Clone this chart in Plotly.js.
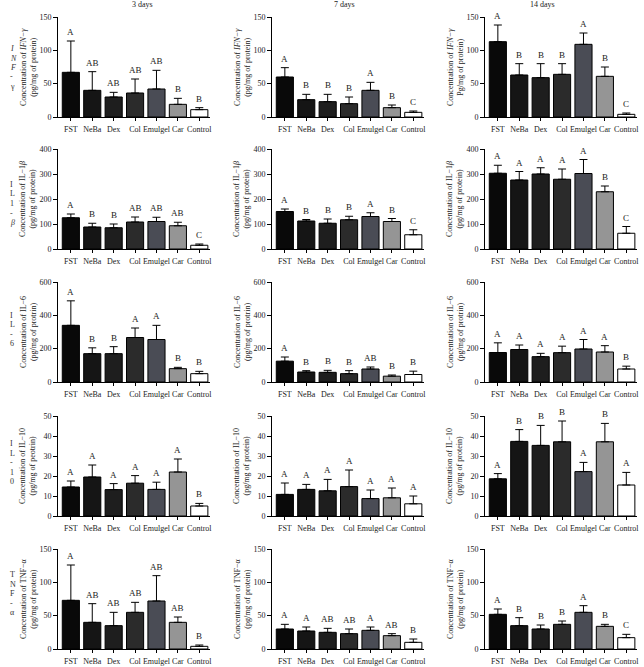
<!DOCTYPE html>
<html>
<head>
<meta charset="utf-8">
<script src="https://cdn.plot.ly/plotly-3.0.1.min.js"></script>
<style>
  html, body { margin: 0; padding: 0; background: #fff; }
  #plot { width: 644px; height: 667px; }
</style>
</head>
<body>
<div id="plot"></div>
<script>
const groups = ["FST", "NeBa", "Dex", "Col", "Emulgel", "Car", "Control"];
const days = ["3 days", "7 days", "14 days"];
const barColors = ["#090909", "#151515", "#1e1e1e", "#2b2b2b", "#4a4c55", "#959595", "#ffffff"];

// each cytokine: [3 days, 7 days, 14 days]; "top" = upper end of error bar
const ifnMean = [[67, 40, 30, 36, 42, 19, 11], [60, 26, 23, 20, 40, 14, 7], [113, 63, 59, 64, 109, 61, 4]];
const ifnTop = [[114, 68, 37, 57, 70, 28, 14], [74, 34, 34, 30, 52, 18, 9], [138, 80, 80, 80, 126, 75, 6]];
const ifnLetters = [["A", "AB", "AB", "AB", "AB", "B", "B"], ["A", "B", "B", "B", "A", "B", "C"], ["A", "B", "B", "B", "A", "B", "C"]];

const il1Mean = [[125, 88, 85, 108, 110, 93, 15], [150, 112, 103, 117, 130, 110, 57], [303, 276, 300, 279, 302, 229, 63]];
const il1Top = [[140, 103, 100, 128, 127, 107, 20], [160, 118, 120, 131, 145, 122, 77], [335, 310, 325, 320, 358, 252, 90]];
const il1Letters = [["A", "B", "B", "AB", "AB", "AB", "C"], ["A", "B", "B", "B", "A", "B", "C"], ["A", "A", "A", "A", "A", "B", "C"]];

const il6Mean = [[340, 170, 170, 267, 255, 80, 50], [125, 60, 58, 50, 78, 35, 45], [177, 195, 152, 176, 198, 180, 78]];
const il6Top = [[487, 205, 212, 324, 340, 88, 64], [150, 68, 70, 68, 90, 42, 65], [235, 222, 172, 215, 255, 218, 95]];
const il6Letters = [["A", "B", "B", "A", "A", "B", "B"], ["A", "B", "B", "B", "AB", "B", "B"], ["A", "A", "A", "A", "A", "A", "B"]];

const il10Mean = [[14.5, 19.5, 13.2, 16.4, 13.3, 22, 5], [10.8, 13.3, 12.6, 14.7, 8.7, 9.1, 6.1], [18.6, 37.3, 35.3, 37.1, 22.2, 37.1, 15.5]];
const il10Top = [[17.5, 25.5, 16.2, 20.2, 16.9, 28.5, 6.3], [16.5, 15.8, 18.3, 23, 13, 14, 10], [21.2, 43.2, 45.3, 47.5, 26.8, 46.3, 21.8]];
const il10Letters = [["A", "A", "A", "A", "A", "A", "B"], ["A", "A", "A", "A", "A", "A", "A"], ["A", "B", "B", "B", "A", "B", "A"]];

const tnfMean = [[73, 40, 35, 55, 72, 40, 4], [30, 27, 25, 23, 28, 20, 10], [52, 35, 30, 37, 55, 34, 17]];
const tnfTop = [[126, 68, 55, 70, 110, 48, 6], [37, 33, 31, 30, 33, 23, 15], [60, 47, 36, 42, 65, 37, 22]];
const tnfLetters = [["A", "AB", "AB", "AB", "AB", "AB", "B"], ["A", "A", "AB", "AB", "A", "AB", "B"], ["A", "B", "B", "B", "A", "B", "C"]];

const yMax = [150, 400, 600, 50, 150];
const yStep = [50, 100, 200, 10, 50];
const rowSide = [
  ["<i>I</i>", "<i>N</i>", "<i>F</i>", "-", "γ"],
  ["I", "L", "1", "-", "<i>β</i>"],
  ["I", "L", "-", "6"],
  ["I", "L", "-", "1", "0"],
  ["T", "N", "F", "-", "α"],
];
const yTitles = [
  ["Concentration of <i>IFN−γ</i><br>(pg/mg of protein)", "Concentration of <i>IFN−γ</i><br>(pg/mg of protein)", "Concentration of <i>IFN−γ</i><br>Pg/mg of protein)"],
  ["Concentration of IL−1<i>β</i><br>(pg/mg of protein)", "Concentration of IL−1<i>β</i><br>(pg/mg of protein)", "Concentration of IL−1<i>β</i><br>(pg/mg of protein)"],
  ["Concentration of IL−6<br>(pg/mg of protrin)", "Concentration of IL−6<br>(pg/mg of protrin)", "Concentration of IL−6<br>(pg/mg of protrin)"],
  ["Concentration of IL−10<br>(pg/mg of peotrin)", "Concentration of IL−10<br>(pg/mg of protein)", "Concentration of IL−10<br>(pg/mg of protein)"],
  ["Concentration of TNF−α<br>(pg/mg of protein)", "Concentration of TNF−α<br>(pg/mg of protein)", "Concentration of TNF−α<br>(pg/mg of protein)"],
];
const rows = [
  [ifnMean, ifnTop, ifnLetters],
  [il1Mean, il1Top, il1Letters],
  [il6Mean, il6Top, il6Letters],
  [il10Mean, il10Top, il10Letters],
  [tnfMean, tnfTop, tnfLetters],
];

const W = 644, H = 667;
const colLeft = [58, 272, 485];
const plotW = 152;
const rowTop = [17, 149, 282, 416, 549];
const plotH = 100;
const sideStart = [25, 29, 33, 34, 32];
const serif = "Liberation Serif, Times New Roman, serif";

const data = [];
const layout = {
  width: W,
  height: H,
  margin: { l: 0, r: 0, t: 0, b: 0 },
  paper_bgcolor: "#fff",
  plot_bgcolor: "#fff",
  showlegend: false,
  bargap: 0.2,
  font: { family: serif, size: 8, color: "#222" },
  annotations: [],
};

rows.forEach((row, r) => {
  const [means, tops, letters] = row;
  for (let c = 0; c < 3; c++) {
    const n = r * 3 + c + 1;
    const sfx = n > 1 ? n : "";
    const mean = means[c];
    const top = tops[c];
    data.push({
      type: "bar",
      x: groups,
      y: mean,
      xaxis: "x" + sfx,
      yaxis: "y" + sfx,
      marker: { color: barColors, line: { color: "#000", width: 1 } },
      error_y: {
        type: "data",
        symmetric: false,
        array: top.map((t, i) => t - mean[i]),
        arrayminus: mean.map(() => 0),
        color: "#000",
        thickness: 1,
        width: 4,
      },
      hoverinfo: "none",
    });
    layout["xaxis" + sfx] = {
      domain: [colLeft[c] / W, (colLeft[c] + plotW) / W],
      anchor: "y" + sfx,
      type: "category",
      range: [-0.6, 6.5],
      showline: true,
      linecolor: "#000",
      linewidth: 1,
      ticks: "outside",
      ticklen: 3,
      tickcolor: "#000",
      tickangle: 0,
      ticklabelstandoff: 1,
      showgrid: false,
      zeroline: false,
      tickfont: { family: serif, size: 8, color: "#222" },
      automargin: false,
    };
    layout["yaxis" + sfx] = {
      domain: [1 - (rowTop[r] + plotH) / H, 1 - rowTop[r] / H],
      anchor: "x" + sfx,
      range: [0, yMax[r]],
      dtick: yStep[r],
      showline: true,
      linecolor: "#000",
      linewidth: 1,
      ticks: "outside",
      ticklen: 4,
      tickcolor: "#000",
      showgrid: false,
      zeroline: false,
      tickfont: { family: serif, size: 8, color: "#222" },
      automargin: false,
    };
    // y title as rotated annotation so it sits where the reference has it
    layout.annotations.push({
      xref: "paper",
      yref: "paper",
      x: (colLeft[c] - 30) / W,
      y: 1 - (rowTop[r] + plotH / 2) / H,
      xanchor: "center",
      yanchor: "middle",
      text: yTitles[r][c],
      textangle: -90,
      showarrow: false,
      font: { family: serif, size: 8, color: "#222" },
    });
    letters[c].forEach((lt, i) => {
      layout.annotations.push({
        xref: "x" + sfx,
        yref: "y" + sfx,
        x: groups[i],
        y: top[i],
        text: lt,
        showarrow: false,
        yanchor: "bottom",
        yshift: 2,
        font: { family: serif, size: 9, color: "#222" },
      });
    });
  }
  rowSide[r].forEach((ch, k) => {
    layout.annotations.push({
      xref: "paper",
      yref: "paper",
      x: 8 / W,
      y: 1 - (rowTop[r] + sideStart[r] + k * 9.5) / H,
      text: ch,
      showarrow: false,
      font: { family: serif, size: 8, color: "#333" },
    });
  });
});

days.forEach((d, c) => {
  layout.annotations.push({
    xref: "paper",
    yref: "paper",
    x: (colLeft[c] + plotW / 2 - 4) / W,
    y: 1 - 4 / H,
    yanchor: "middle",
    text: d,
    showarrow: false,
    font: { family: serif, size: 8, color: "#222" },
  });
});

Plotly.newPlot("plot", data, layout, { staticPlot: true });
</script>
</body>
</html>
